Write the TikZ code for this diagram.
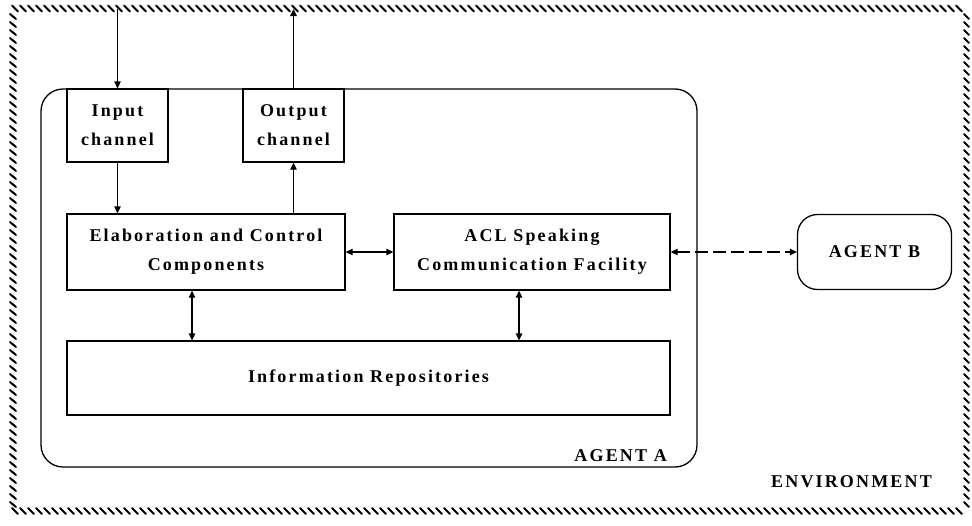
\documentclass[tikz,border=0pt]{standalone}
\usepackage{fontspec}
\setmainfont{Liberation Serif}[LetterSpace=12]
\usetikzlibrary{arrows.meta}

\tikzset{
  every picture/.style={line join=miter},
  box/.style={draw, line width=1.3pt, inner sep=0pt, align=center,
    font=\bfseries\fontsize{18}{29}\selectfont},
  lbl/.style={inner sep=0pt, font=\bfseries\fontsize{18}{29}\selectfont},
  link/.style={line width=1.3pt, {Triangle[length=7pt,width=6.5pt]}-{Triangle[length=7pt,width=6.5pt]}},
  tolink/.style={line width=1.3pt, -{Triangle[length=7pt,width=6.5pt]}},
  hatch/.style={line width=2pt, line cap=round}
}

\begin{document}
\begin{tikzpicture}[x=1pt,y=-1pt]
\useasboundingbox (0,0) rectangle (972,525);

% environment: hatched frame
\foreach \x in {12,20,...,962} { \draw[hatch] (\x,5.5) -- (\x+6,11.5); }
\foreach \x in {12,20,...,962} { \draw[hatch] (\x,508) -- (\x+6,514); }
\foreach \y in {14,22,...,504} { \draw[hatch] (10,\y) -- (16,\y+5); }
\foreach \y in {14,22,...,504} { \draw[hatch] (964,\y) -- (969,\y+5); }

% agent A frame
\node[draw, line width=1.3pt, rounded corners=22pt, minimum width=656pt, minimum height=378pt] (agentA) at (369,278) {};

% components
\node[box, minimum width=101pt, minimum height=73pt] (inch) at (117.5,125.5) {Input\\channel};
\node[box, minimum width=101pt, minimum height=73pt] (outch) at (293.5,125.5) {Output\\channel};
\node[box, minimum width=278pt, minimum height=76pt] (elab) at (206,252) {Elaboration and Control\\Components};
\node[box, minimum width=276pt, minimum height=76pt] (acl) at (532,252) {ACL Speaking\\Communication Facility};
\node[box, minimum width=603pt, minimum height=74pt] (info) at (368.5,378) {Information Repositories};
\node[box, rounded corners=20pt, minimum width=154pt, minimum height=75pt] (agentB) at (874.5,252) {AGENT B};

% labels
\node[lbl, anchor=east] (agentAlbl) at (667,456) {AGENT A};
\node[lbl, anchor=east] (envlbl) at (932,482) {ENVIRONMENT};

% free ends on the environment frame
\coordinate (inTop) at (117.5,9);
\coordinate (outTop) at (293.5,9);

% connectors
\draw[tolink] (inTop) -- (inch.north);
\draw[tolink] (inch.south) -- (inch.south |- elab.north);
\draw[tolink] (outch.south |- elab.north) -- (outch.south);
\draw[tolink] (outch.north) -- (outTop);
\draw[link] (elab.east) -- (acl.west);
\draw[link] ([xshift=-14pt]elab.south) -- ([xshift=-14pt]elab.south |- info.north);
\draw[link] ([xshift=-13pt]acl.south) -- ([xshift=-13pt]acl.south |- info.north);
\draw[link, dash pattern=on 13pt off 5pt] (acl.east) -- (agentB.west);
\end{tikzpicture}
\end{document}
